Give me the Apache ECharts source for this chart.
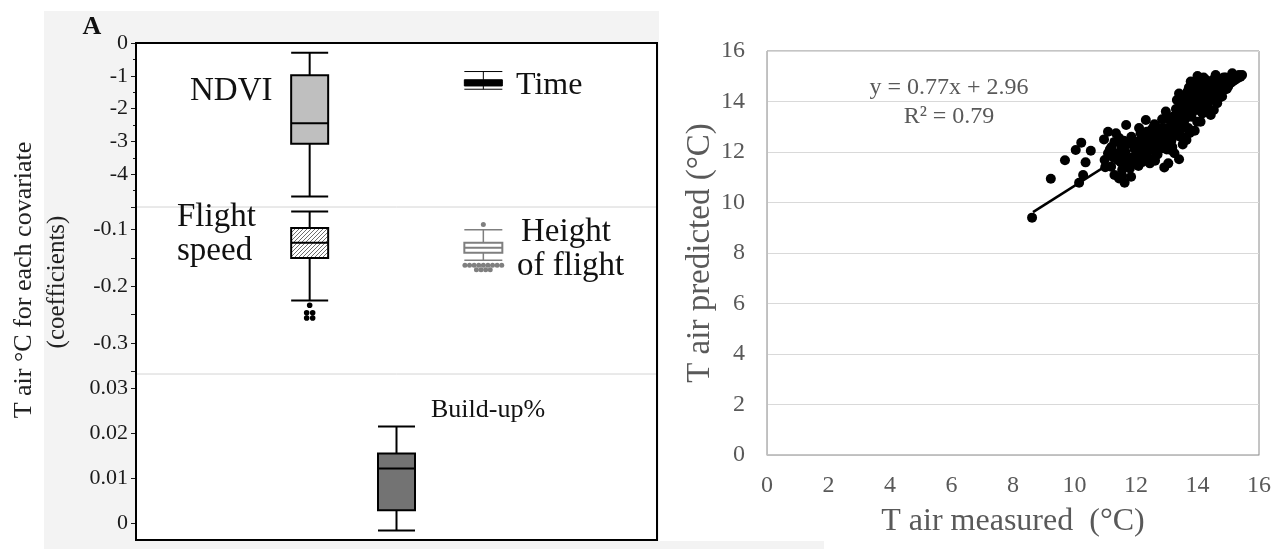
<!DOCTYPE html>
<html><head><meta charset="utf-8">
<script src="https://cdn.jsdelivr.net/npm/echarts@6/dist/echarts.min.js"></script>
<style>html,body{margin:0;padding:0;background:#fff}#c{width:1287px;height:549px}</style>
</head><body><div id="c"></div>
<script>
// ---------- Panel A: coefficient box plots [low, Q1, median, Q3, high] ----------
const slots = ['', '', 'NDVI / Flight speed', 'Build-up%', 'Time / Height of flight', '', ''];
const ndviBox = [-4.68, -3.07, -2.45, -0.98, -0.30];
const timeBox = [-1.41, -1.31, -1.20, -1.12, -0.87];
const speedBox = [-0.225, -0.150, -0.123, -0.097, -0.068];
const speedOutliers = [-0.2335, -0.247, -0.247, -0.256, -0.256];
const heightBox = [-0.154, -0.141, -0.132, -0.123, -0.100];
const heightOutliers = [-0.0907, -0.163, -0.163, -0.163, -0.163, -0.163, -0.163, -0.163, -0.163, -0.163, -0.171, -0.171, -0.171, -0.171];
const buildBox = [-0.0015, 0.0030, 0.0122, 0.0155, 0.0215];
const topTicks = [0, -1, -2, -3, -4];
const midTicks = [-0.1, -0.2, -0.3];
const midMinor = [-0.1, -0.15, -0.2, -0.25, -0.3, -0.35];
const botTicks = [0, 0.01, 0.02, 0.03];

// ---------- Panel B: measured vs predicted air temperature ----------
const scatterPts = [
[8.62,9.40],[9.23,10.94],[9.69,11.67],[10.04,12.08],[10.22,12.37],[10.53,12.05],[10.36,11.59],[10.28,11.09],[10.15,10.78],
[10.96,12.50],[11.09,12.80],[11.35,12.74],[11.68,13.07],[11.30,11.09],[11.63,10.78],[11.84,11.02],[10.98,11.68],[11.19,11.42],[11.41,11.68],[11.09,11.95],[11.52,12.21],
[11.45,10.95],[11.55,11.30],[11.25,11.80],[11.00,11.40],[11.15,12.10],[11.30,12.40],[11.45,12.55],[11.60,11.90],[11.70,12.30],[11.75,11.55],[11.85,12.60],[11.90,11.80],[11.95,12.15],[11.80,11.35],[11.65,12.00],[11.40,11.95],[11.20,12.20],
[12.00,12.40],[12.05,11.75],[12.10,12.10],[12.15,12.74],[12.20,11.60],[12.25,12.35],[12.30,12.00],[12.32,13.27],[12.35,11.85],[12.40,12.55],[12.45,12.20],[12.50,12.87],[12.50,11.70],[12.55,12.45],[12.60,12.05],[12.65,12.70],[12.70,12.34],[12.70,11.90],[12.75,12.95],[12.80,12.50],[12.85,12.15],[12.90,12.80],[12.92,11.39],[12.95,12.40],[12.97,13.60],[13.00,12.10],[12.10,12.95],[12.20,12.60],[12.35,12.80],[12.60,13.10],[12.45,11.55],[12.15,11.95],[12.85,13.30],[12.55,12.95],[12.05,12.25],[12.25,11.85],[12.40,12.05],[12.65,12.55],[12.78,12.20],[12.88,12.60],
[13.02,13.33],[13.05,12.70],[13.10,13.00],[13.13,12.08],[13.15,12.45],[13.20,13.40],[13.25,12.85],[13.30,13.70],[13.33,14.06],[13.35,13.15],[13.40,14.32],[13.40,11.71],[13.45,12.60],[13.48,12.61],[13.50,13.55],[13.55,13.95],[13.58,14.20],[13.60,13.30],[13.62,13.53],[13.64,12.48],[13.68,14.40],[13.70,13.75],[13.75,14.05],[13.78,14.79],[13.80,13.40],[13.85,14.25],[13.89,13.93],[13.91,12.84],[13.95,14.50],[13.99,13.20],[13.10,12.30],[13.20,12.60],[13.30,12.95],[13.45,13.35],[13.55,13.10],[13.65,13.85],[13.72,14.55],[13.85,13.60],[13.95,14.05],[13.50,14.10],[13.35,13.45],[13.25,13.10],[13.60,12.95],[13.75,12.75],
[14.00,15.01],[14.05,14.30],[14.10,14.46],[14.12,13.80],[14.16,13.53],[14.20,14.70],[14.25,14.10],[14.30,14.19],[14.32,13.90],[14.35,14.55],[14.40,14.35],[14.43,13.47],[14.45,14.80],[14.50,14.20],[14.53,13.66],[14.55,14.50],[14.59,15.05],[14.60,14.00],[14.64,14.65],[14.64,13.93],[14.68,14.35],[14.70,14.85],[14.75,14.55],[14.80,14.20],[14.86,14.46],[14.90,14.70],[14.96,14.82],[15.00,14.60],[15.05,14.90],[15.13,15.12],[15.20,14.85],[15.25,15.00],[15.30,14.95],[15.40,14.98],[15.45,15.05],[14.20,14.95],[14.30,14.60],[14.40,14.05],[14.55,14.90],[14.15,14.00],[14.25,13.75],[14.70,14.15],[14.85,14.95],[14.05,13.65],[14.48,14.65],[14.62,14.40],[14.78,14.70],[14.95,14.50],[15.10,14.75],
[12.02,12.05],[12.12,12.45],[12.22,12.15],[12.28,12.70],[12.38,12.35],[12.48,12.65],[12.58,12.25],[12.68,12.85],[12.72,12.10],[12.82,12.75],[12.92,12.95],[12.98,12.55],[13.08,12.85],[13.18,12.20],[13.28,13.25],[13.38,12.75],[13.42,13.80],[13.52,13.35],[13.62,14.05],[13.66,13.60],[13.74,14.25],[13.82,14.10],[13.88,14.60],[13.92,13.75],[13.98,14.30],[14.02,14.75],[14.08,14.05],[14.14,14.55],[14.22,14.35],[14.28,14.85],[14.34,14.30],[14.38,14.70],[14.44,14.10],[14.52,14.45],[14.58,14.75],[14.66,14.90],[14.72,14.45],[14.82,14.90],[14.92,14.95],[15.02,14.80],[15.15,14.95],[15.35,15.05],[11.50,11.60],[11.60,12.45],[11.72,11.75],[11.88,12.35],[11.98,11.55],[11.55,11.05],[12.08,11.45],[12.62,11.65],[13.05,11.55],[13.25,11.95],[13.52,12.30],[13.70,12.95],[14.10,13.20],[14.35,13.70]
];
const trendPts = [[8.65, 9.62], [15.45, 14.86]];
const equationText = 'y = 0.77x + 2.96';
const r2Text = 'R\u00B2 = 0.79';

// ---------- helpers ----------
const SERIF = "'Liberation Serif','Times New Roman',serif";
const hatch = document.createElement('canvas');
hatch.width = 4; hatch.height = 4;
(function(){
  const c = hatch.getContext('2d');
  c.fillStyle = '#ffffff'; c.fillRect(0,0,4,4);
  c.strokeStyle = '#6e6e6e'; c.lineWidth = 1;
  c.beginPath();
  c.moveTo(0,4); c.lineTo(4,0);
  c.moveTo(-1,1); c.lineTo(1,-1);
  c.moveTo(3,5); c.lineTo(5,3);
  c.stroke();
})();

function makeBox(st){
  return function(params, api){
    const s = api.value(0);
    const p = i => api.coord([s, api.value(i)]);
    const lo = p(1), q1 = p(2), md = p(3), q3 = p(4), hi = p(5);
    const cx = lo[0], hw = st.half;
    const wl = {stroke: st.stroke, lineWidth: st.whisker};
    return {type:'group', children:[
      {type:'line', shape:{x1:cx,y1:hi[1],x2:cx,y2:q3[1]}, style:wl},
      {type:'line', shape:{x1:cx,y1:q1[1],x2:cx,y2:lo[1]}, style:wl},
      {type:'line', shape:{x1:cx-hw,y1:hi[1],x2:cx+hw,y2:hi[1]}, style:wl},
      {type:'line', shape:{x1:cx-hw,y1:lo[1],x2:cx+hw,y2:lo[1]}, style:wl},
      {type:'rect', shape:{x:cx-hw,y:q3[1],width:2*hw,height:q1[1]-q3[1]}, style:{fill:st.fill, stroke:st.stroke, lineWidth:st.box}},
      {type:'line', shape:{x1:cx-hw,y1:md[1],x2:cx+hw,y2:md[1]}, style:{stroke:st.stroke, lineWidth:st.box}}
    ]};
  };
}
function swarm(slot, vals){
  const out = [];
  const groups = {};
  vals.forEach(v => { groups[v] = (groups[v] || 0) + 1; });
  const seen = {};
  vals.forEach(v => {
    const n = groups[v]; const k = seen[v] || 0; seen[v] = k + 1;
    out.push([slot, v, k - (n - 1) / 2]);
  });
  return out;
}
function makeDots(st){
  return function(params, api){
    const c = api.coord([api.value(0), api.value(1)]);
    return {type:'circle', shape:{cx:c[0] + api.value(2) * st.gap, cy:c[1], r:st.r}, style:{fill:st.color}};
  };
}

const leftAxisLabel = {color:'#1a1a1a', fontSize:22, fontFamily:SERIF, margin:8};
const leftTick = {show:true, inside:false, length:5, lineStyle:{color:'#1a1a1a', width:1}};
const hiddenCat = (gi) => ({type:'category', gridIndex:gi, data:slots, boundaryGap:false, show:false});

const L = 136, W = 521;
const option = {
  animation:false,
  backgroundColor:'#ffffff',
  graphic:[
    {type:'rect', z:-10, shape:{x:44, y:11, width:780, height:538}, style:{fill:'#f3f3f3'}},
    {type:'rect', z:-9, shape:{x:659, y:0, width:628, height:541}, style:{fill:'#ffffff'}},
    {type:'rect', z:-9, shape:{x:L, y:43, width:W, height:497}, style:{fill:'#ffffff'}},
    {type:'text', z:5, x:92, y:27, style:{text:'A', font:'bold 26px '+SERIF, fill:'#111', align:'center', verticalAlign:'middle'}},
    {type:'text', z:5, x:24, y:280, rotation:Math.PI/2, style:{text:'T air \u00B0C for each covariate', font:'26px '+SERIF, fill:'#222', align:'center', verticalAlign:'middle'}},
    {type:'text', z:5, x:57, y:282, rotation:Math.PI/2, style:{text:'(coefficients)', font:'25px '+SERIF, fill:'#222', align:'center', verticalAlign:'middle'}},
    {type:'text', z:5, x:190, y:91, style:{text:'NDVI', font:'33px '+SERIF, fill:'#111', align:'left', verticalAlign:'middle'}},
    {type:'text', z:5, x:177, y:217, style:{text:'Flight', font:'33px '+SERIF, fill:'#111', align:'left', verticalAlign:'middle'}},
    {type:'text', z:5, x:177, y:251, style:{text:'speed', font:'33px '+SERIF, fill:'#111', align:'left', verticalAlign:'middle'}},
    {type:'text', z:5, x:516, y:86, style:{text:'Time', font:'32px '+SERIF, fill:'#111', align:'left', verticalAlign:'middle'}},
    {type:'text', z:5, x:521, y:232, style:{text:'Height', font:'33px '+SERIF, fill:'#111', align:'left', verticalAlign:'middle'}},
    {type:'text', z:5, x:517, y:266, style:{text:'of flight', font:'33px '+SERIF, fill:'#111', align:'left', verticalAlign:'middle'}},
    {type:'text', z:5, x:431, y:410, style:{text:'Build-up%', font:'26px '+SERIF, fill:'#111', align:'left', verticalAlign:'middle'}},
    {type:'text', z:5, x:949, y:88, style:{text:equationText, font:'24px '+SERIF, fill:'#595959', align:'center', verticalAlign:'middle'}},
    {type:'text', z:5, x:949, y:117, style:{text:r2Text, font:'24px '+SERIF, fill:'#595959', align:'center', verticalAlign:'middle'}}
  ],
  grid:[
    {left:L, top:43, width:W, height:497, show:true, borderColor:'#000', borderWidth:2, backgroundColor:'transparent', z:10},
    {left:L, top:43, width:W, height:164},
    {left:L, top:207, width:W, height:167, show:true, borderColor:'#d4d4d4', borderWidth:1, backgroundColor:'transparent'},
    {left:L, top:374, width:W, height:166},
    {left:767, top:51, width:492, height:404, show:true, borderColor:'#8a8a8a', borderWidth:1, backgroundColor:'transparent'}
  ],
  xAxis:[
    {type:'value', gridIndex:0, show:false, min:0, max:1},
    hiddenCat(1), hiddenCat(2), hiddenCat(3),
    {type:'value', gridIndex:4, min:0, max:16, interval:2,
     axisLine:{show:true, lineStyle:{color:'#bfbfbf'}}, axisTick:{show:false}, splitLine:{show:false},
     axisLabel:{color:'#595959', fontSize:24, fontFamily:SERIF, margin:19},
     name:'T air measured  (\u00B0C)', nameLocation:'middle', nameGap:51,
     nameTextStyle:{color:'#595959', fontSize:32, fontFamily:SERIF}}
  ],
  yAxis:[
    {type:'value', gridIndex:0, show:false, min:0, max:1},
    {type:'value', gridIndex:1, min:-5, max:0, interval:1,
     axisLine:{show:false}, axisTick:leftTick, splitLine:{show:false},
     minorTick:{show:true, splitNumber:2, length:3, lineStyle:{color:'#1a1a1a'}}, minorSplitLine:{show:false},
     axisLabel:Object.assign({}, leftAxisLabel, {formatter: v => topTicks.indexOf(v) >= 0 ? String(v) : ''})},
    {type:'value', gridIndex:2, min:-0.355, max:-0.06,
     axisLine:{show:false}, splitLine:{show:false},
     axisTick:Object.assign({}, leftTick, {customValues:midMinor}),
     axisLabel:Object.assign({}, leftAxisLabel, {customValues:midTicks, formatter: v => String(v)})},
    {type:'value', gridIndex:3, min:-0.0036, max:0.0331,
     axisLine:{show:false}, splitLine:{show:false},
     axisTick:Object.assign({}, leftTick, {customValues:botTicks}),
     axisLabel:Object.assign({}, leftAxisLabel, {customValues:botTicks, formatter: v => String(v)})},
    {type:'value', gridIndex:4, min:0, max:16, interval:2,
     axisLine:{show:true, lineStyle:{color:'#bfbfbf'}}, axisTick:{show:false},
     splitLine:{show:true, lineStyle:{color:'#d9d9d9', width:1}},
     axisLabel:{color:'#595959', fontSize:24, fontFamily:SERIF, margin:22},
     name:'T air predicted (\u00B0C)', nameLocation:'middle', nameGap:50,
     nameTextStyle:{color:'#595959', fontSize:33, fontFamily:SERIF}}
  ],
  series:[
    {name:'NDVI', type:'custom', xAxisIndex:1, yAxisIndex:1, clip:false, encode:{x:0, y:[1,2,3,4,5]},
     renderItem:makeBox({half:18.5, fill:'#bfbfbf', stroke:'#000', whisker:2, box:2}), data:[[2].concat(ndviBox)]},
    {name:'Time', type:'custom', xAxisIndex:1, yAxisIndex:1, clip:false, encode:{x:0, y:[1,2,3,4,5]},
     renderItem:makeBox({half:19, fill:'#000', stroke:'#000', whisker:1, box:1}), data:[[4].concat(timeBox)]},
    {name:'Flight speed', type:'custom', xAxisIndex:2, yAxisIndex:2, clip:false, encode:{x:0, y:[1,2,3,4,5]},
     renderItem:makeBox({half:18.5, fill:{image:hatch, repeat:'repeat'}, stroke:'#000', whisker:2, box:2}), data:[[2].concat(speedBox)]},
    {name:'Flight speed outliers', type:'custom', xAxisIndex:2, yAxisIndex:2, clip:false, encode:{x:0, y:1},
     renderItem:makeDots({r:2.8, gap:6, color:'#000'}), data:swarm(2, speedOutliers)},
    {name:'Height of flight', type:'custom', xAxisIndex:2, yAxisIndex:2, clip:false, encode:{x:0, y:[1,2,3,4,5]},
     renderItem:makeBox({half:19, fill:'#fff', stroke:'#7f7f7f', whisker:1.5, box:2}), data:[[4].concat(heightBox)]},
    {name:'Height outliers', type:'custom', xAxisIndex:2, yAxisIndex:2, clip:false, encode:{x:0, y:1},
     renderItem:makeDots({r:2.5, gap:4.6, color:'#7f7f7f'}), data:swarm(4, heightOutliers)},
    {name:'Build-up%', type:'custom', xAxisIndex:3, yAxisIndex:3, clip:false, encode:{x:0, y:[1,2,3,4,5]},
     renderItem:makeBox({half:18.5, fill:'#737373', stroke:'#000', whisker:2, box:2}), data:[[3].concat(buildBox)]},
    {name:'points', type:'scatter', xAxisIndex:4, yAxisIndex:4, symbol:'circle', symbolSize:10,
     itemStyle:{color:'#000', opacity:1}, data:scatterPts},
    {name:'trend', type:'line', xAxisIndex:4, yAxisIndex:4, showSymbol:false, symbol:'none',
     lineStyle:{color:'#000', width:2.5}, data:trendPts, z:3}
  ]
};
echarts.init(document.getElementById('c'), null, {renderer:'canvas'}).setOption(option);
</script>
</body></html>
